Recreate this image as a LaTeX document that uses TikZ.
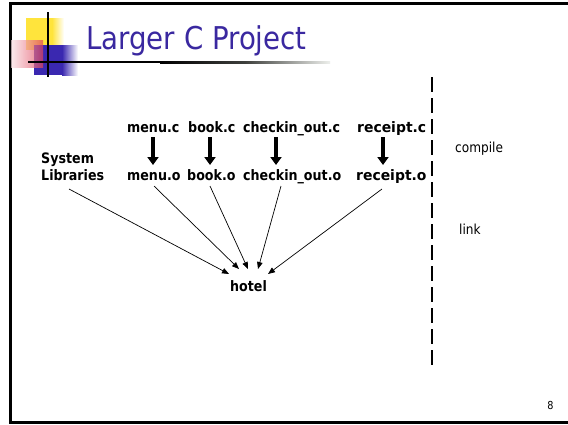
\documentclass[tikz,border=0pt]{standalone}
\usepackage{fontspec}
\usepackage{graphicx}
\newfontfamily\tahoma[FakeStretch=0.88]{DejaVu Sans}
\usetikzlibrary{arrows.meta}
\definecolor{titleblue}{RGB}{58,40,160}
\definecolor{logoyellow}{RGB}{255,228,60}
\definecolor{logoblue}{RGB}{58,40,176}
\definecolor{logopink}{RGB}{224,64,88}
\definecolor{fadegrey}{RGB}{205,210,200}
\tikzset{
  lbl/.style={anchor=base west, inner sep=0pt, font=\tahoma\bfseries\fontsize{14.4}{17}\selectfont},
  plain/.style={anchor=base west, inner sep=0pt, font=\tahoma\fontsize{13.8}{16}\selectfont},
  bigarr/.style={line width=4pt, -{Triangle[length=8pt,width=11pt]}},
  thinarr/.style={line width=0.7pt, -{Triangle[length=7pt,width=5.5pt]}},
}
\begin{document}
\begin{tikzpicture}[x=1pt,y=-1pt]
\useasboundingbox (0,0) rectangle (568,424);
\fill[white] (0,0) rectangle (568,424);
% slide border
\draw[line width=3pt] (10,3.5) rectangle (590,422);
% logo
\fill[logoyellow] (26,18) rectangle (52,50);
\shade[left color=logoyellow, right color=white] (52,18) rectangle (64,50);
\fill[logoblue] (34,45) rectangle (62,75);
\shade[left color=logoblue, right color=white] (62,45) rectangle (78,75);
\shade[left color=logopink!15, right color=logopink, opacity=0.7] (11,40) rectangle (43,67);
\draw[line width=2pt] (48,12) -- (48,77);
\fill[black] (28,61) rectangle (160,63);
\shade[left color=black, right color=fadegrey!35, middle color=black!70!fadegrey] (160,61) rectangle (330,63);
% title
\node[anchor=base west, inner sep=0pt, text=titleblue,
      font=\tahoma\fontsize{31.4}{36}\selectfont] (title) at (86,49) {Larger C Project};
% labels
\node[lbl] (mc) at (127,132) {menu.c};
\node[lbl] (bc) at (188,132) {book.c};
\node[lbl] (cc) at (243,132) {checkin\_out.c};
\node[lbl] (rc) at (357,132) {\scalebox{1.1}[1]{receipt.c}};
\node[lbl] (mo) at (127,180) {menu.o};
\node[lbl] (bo) at (187,180) {book.o};
\node[lbl] (co) at (243,180) {checkin\_out.o};
\node[lbl] (ro) at (356,180) {\scalebox{1.1}[1]{receipt.o}};
\node[lbl] (sys) at (41,163) {System};
\node[lbl] (lib) at (41,180) {Libraries};
\node[lbl] (hotel) at (230,291) {hotel};
\node[plain] (compile) at (455,152) {compile};
\node[plain] (link) at (459,234) {link};
\node[anchor=base, inner sep=0pt, font=\tahoma\fontsize{11}{13}\selectfont] (pg) at (550.5,409) {8};
% compile arrows
\coordinate (m1) at (153,137); \coordinate (m2) at (153,165);
\coordinate (b1) at (210,137); \coordinate (b2) at (210,165);
\coordinate (c1) at (276,137); \coordinate (c2) at (276,165);
\coordinate (r1) at (383,137); \coordinate (r2) at (383,165);
\draw[bigarr] (m1) -- (m2);
\draw[bigarr] (b1) -- (b2);
\draw[bigarr] (c1) -- (c2);
\draw[bigarr] (r1) -- (r2);
% link arrows
\coordinate (ls) at (69,189);
\coordinate (ms) at (154,186);
\coordinate (bs) at (210,186);
\coordinate (cs) at (281,186);
\coordinate (rs) at (382,189);
\coordinate (h1) at (229,274);
\coordinate (h2) at (239,269);
\coordinate (h3) at (248,269);
\coordinate (h4) at (258,269);
\coordinate (h5) at (268,274);
\draw[thinarr] (ls) -- (h1);
\draw[thinarr] (ms) -- (h2);
\draw[thinarr] (bs) -- (h3);
\draw[thinarr] (cs) -- (h4);
\draw[thinarr] (rs) -- (h5);
% divider
\coordinate (d1) at (432,77); \coordinate (d2) at (432,365);
\draw[line width=2pt, dash pattern=on 15pt off 6pt] (d1) -- (d2);
\end{tikzpicture}
\end{document}
